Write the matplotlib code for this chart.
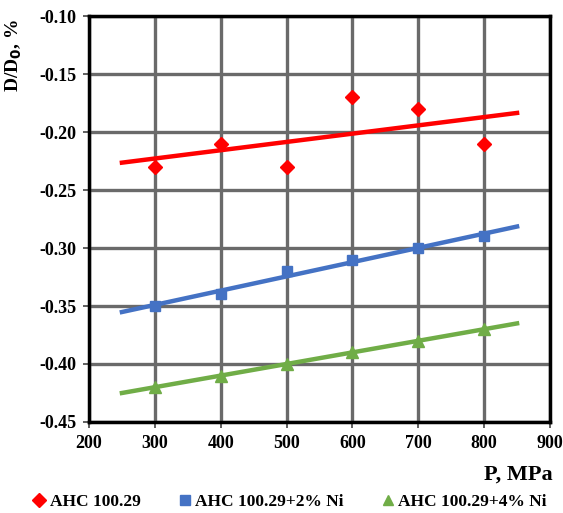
import numpy as np
import matplotlib
matplotlib.use("Agg")
import matplotlib.pyplot as plt
from matplotlib.lines import Line2D

# data
pressure = [300, 400, 500, 600, 700, 800]
d_base = [-0.23, -0.21, -0.23, -0.17, -0.18, -0.21]
d_ni2 = [-0.35, -0.34, -0.32, -0.31, -0.30, -0.29]
d_ni4 = [-0.42, -0.41, -0.40, -0.39, -0.38, -0.37]
labels = ["AHC 100.29", "AHC 100.29+2% Ni", "AHC 100.29+4% Ni"]
colors = ["#FF0000", "#4472C4", "#70AD47"]
markers = ["D", "s", "^"]
msizes = [7, 7, 8]

plt.rcParams['font.family'] = ['Liberation Serif', 'DejaVu Serif']
plt.rcParams['font.weight'] = 'bold'

fig = plt.figure(figsize=(5.63, 5.13), dpi=100)
ax = fig.add_axes([89/563, 1-422/513, (550-89)/563, (422-16)/513])

trend_x = np.array([250, 850])
for ys, c, m, ms in zip([d_base, d_ni2, d_ni4], colors, markers, msizes):
    k, b = np.polyfit(pressure, ys, 1)
    ax.plot(trend_x, k*trend_x + b, color=c, lw=3.2, zorder=3)
    ax.plot(pressure, ys, ls='none', marker=m, color=c, ms=ms, zorder=4)

ax.set_xlim(200, 900)
ax.set_ylim(-0.45, -0.10)
ax.set_xticks(np.arange(200, 901, 100))
ax.set_yticks(np.arange(-0.45, -0.099, 0.05))
ax.set_yticklabels(["%.2f" % v for v in np.arange(-0.45, -0.099, 0.05)])
ax.grid(True, color='#6A6A6A', lw=2.4)
ax.set_axisbelow(True)
for s in ax.spines.values():
    s.set_color('black')
    s.set_linewidth(2.5)
ax.tick_params(labelsize=13, width=1.2, length=4, pad=5, color='#444444')
for t in ax.get_xticklabels() + ax.get_yticklabels():
    t.set_fontweight('bold')

fig.text(553/563, 1-475/513, "P, MPa", ha='right', va='center', fontsize=16, fontweight='bold')
fig.text(14/563, 1-55/513, "D/D$_\\mathbf{0}$, %", rotation=90, ha='center', va='center',
         fontsize=14, fontweight='bold')

handles = [Line2D([], [], ls='none', marker=m, color=c, ms=7) for m, c in zip(markers, colors)]
fig.legend(handles, labels, loc='center', bbox_to_anchor=(0.512, 1-502/513), ncol=3,
           frameon=False, handletextpad=0.05, columnspacing=2.0, handlelength=1.1,
           prop={'weight': 'bold', 'size': 12.5})

fig.savefig("out.png", dpi=100)
